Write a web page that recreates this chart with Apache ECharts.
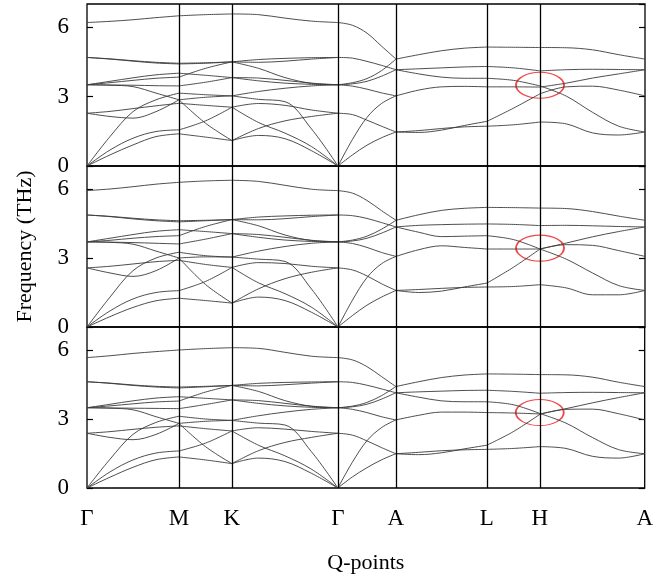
<!DOCTYPE html>
<html>
<head>
<meta charset="utf-8">
<script src="https://cdn.jsdelivr.net/npm/echarts@6/dist/echarts.min.js"></script>
<style>
  html, body { margin: 0; padding: 0; background: #fff; }
  #main { width: 656px; height: 583px; }
</style>
</head>
<body>
<div id="main"></div>
<script>
// high-symmetry path
const kLabels = ['Γ', 'M', 'K', 'Γ', 'A', 'L', 'H', 'A'];
const kPos = [0, 92, 145, 251, 309, 400, 453, 558];
const frac5 = [0, 0.25, 0.5, 0.75, 1];
const frac3 = [0, 0.5, 1];
const segFrac = [frac5, frac3, frac5, frac5, frac5, frac3, frac5];
// red ring at H, one per panel (THz)
const ringH = [3.49, 3.43, 3.28];

// ---- top panel ----
const top_GM = [
  [6.20, 6.25, 6.32, 6.41, 6.49],
  [4.69, 4.63, 4.55, 4.48, 4.44],
  [4.69, 4.62, 4.53, 4.45, 4.41],
  [3.51, 3.66, 3.81, 3.94, 4.01],
  [3.51, 3.60, 3.70, 3.79, 3.84],
  [3.51, 3.50, 3.49, 3.47, 3.46],
  [3.51, 3.49, 3.43, 3.15, 2.86],
  [2.28, 2.36, 2.48, 2.60, 2.71],
  [2.28, 2.14, 2.07, 2.35, 2.86],
  [0, 1.27, 2.35, 2.86, 3.15],
  [0, 0.69, 1.20, 1.49, 1.56],
  [0, 0.48, 0.91, 1.27, 1.39]
];
const top_MK = [
  [6.49, 6.54, 6.57],
  [4.44, 4.46, 4.50],
  [4.41, 4.44, 4.50],
  [4.01, 3.92, 3.82],
  [3.84, 4.22, 4.50],
  [3.46, 3.62, 3.82],
  [3.15, 3.08, 3.03],
  [2.86, 1.85, 1.10],
  [2.86, 2.97, 3.03],
  [2.71, 2.62, 2.54],
  [1.56, 1.95, 2.54],
  [1.39, 1.25, 1.10]
];
const top_KG = [
  [6.57, 6.54, 6.39, 6.26, 6.20],
  [4.50, 4.60, 4.65, 4.68, 4.69],
  [4.50, 4.48, 4.53, 4.62, 4.69],
  [4.50, 4.22, 3.82, 3.57, 3.51],
  [3.82, 3.80, 3.70, 3.58, 3.51],
  [3.82, 3.68, 3.58, 3.53, 3.51],
  [3.03, 3.22, 3.36, 3.46, 3.51],
  [3.03, 2.88, 2.78, 1.60, 0],
  [2.54, 2.70, 2.62, 2.42, 2.28],
  [2.54, 1.88, 1.42, 0.84, 0],
  [1.10, 1.62, 1.95, 2.14, 2.28],
  [1.10, 1.32, 1.18, 0.66, 0]
];
const top_GA = [
  [6.20, 6.08, 5.74, 5.18, 4.62],
  [4.69, 4.66, 4.52, 4.35, 4.16],
  [3.51, 3.60, 3.78, 4.12, 4.62],
  [3.51, 3.55, 3.66, 3.88, 4.16],
  [3.51, 3.45, 3.32, 3.16, 3.03],
  [2.28, 2.22, 1.98, 1.72, 1.47],
  [0, 1.15, 2.10, 2.70, 3.03],
  [0, 0.48, 0.90, 1.22, 1.47]
];
const top_AL = [
  [4.62, 4.81, 4.98, 5.09, 5.14],
  [4.16, 4.20, 4.24, 4.28, 4.30],
  [4.16, 3.98, 3.84, 3.79, 3.79],
  [3.03, 3.28, 3.42, 3.44, 3.42],
  [1.47, 1.45, 1.55, 1.75, 1.93],
  [1.47, 1.53, 1.62, 1.69, 1.72]
];
const top_LH = [
  [5.14, 5.13, 5.12],
  [4.30, 4.24, 4.11],
  [3.79, 3.70, 3.46],
  [3.42, 3.42, 3.41],
  [1.93, 2.50, 3.12],
  [1.72, 1.78, 1.90]
];
const top_HA = [
  [5.12, 5.11, 5.02, 4.81, 4.62],
  [4.11, 4.16, 4.18, 4.17, 4.16],
  [3.41, 3.58, 3.80, 3.98, 4.16],
  [3.46, 3.02, 2.32, 1.72, 1.47],
  [3.12, 3.42, 3.45, 3.28, 3.03],
  [1.90, 1.82, 1.43, 1.34, 1.47]
];

// ---- middle panel ----
const mid_GM = [
  [5.93, 6.00, 6.10, 6.21, 6.29],
  [4.87, 4.81, 4.73, 4.66, 4.62],
  [4.87, 4.80, 4.70, 4.62, 4.57],
  [3.70, 3.86, 4.02, 4.16, 4.23],
  [3.70, 3.77, 3.86, 3.93, 3.97],
  [3.70, 3.69, 3.67, 3.64, 3.61],
  [3.70, 3.68, 3.60, 3.30, 3.00],
  [2.57, 2.64, 2.74, 2.84, 2.90],
  [2.57, 2.35, 2.20, 2.45, 3.00],
  [0, 1.30, 2.45, 3.00, 3.25],
  [0, 0.70, 1.22, 1.50, 1.58],
  [0, 0.45, 0.85, 1.14, 1.25]
];
const mid_MK = [
  [6.29, 6.35, 6.38],
  [4.62, 4.64, 4.67],
  [4.57, 4.62, 4.67],
  [4.23, 4.15, 4.06],
  [3.97, 4.37, 4.67],
  [3.61, 3.82, 4.06],
  [3.25, 3.10, 3.04],
  [3.00, 1.85, 1.04],
  [3.00, 3.05, 3.04],
  [2.90, 2.72, 2.59],
  [1.58, 1.98, 2.59],
  [1.25, 1.15, 1.04]
];
const mid_KG = [
  [6.38, 6.33, 6.16, 5.99, 5.93],
  [4.67, 4.78, 4.83, 4.86, 4.87],
  [4.67, 4.66, 4.71, 4.80, 4.87],
  [4.67, 4.40, 4.00, 3.76, 3.70],
  [4.06, 4.02, 3.90, 3.77, 3.70],
  [4.06, 3.90, 3.78, 3.72, 3.70],
  [3.04, 3.30, 3.50, 3.64, 3.70],
  [3.04, 2.95, 2.85, 1.65, 0],
  [2.59, 2.80, 2.76, 2.64, 2.57],
  [2.59, 1.92, 1.45, 0.86, 0],
  [1.04, 1.66, 2.10, 2.38, 2.57],
  [1.04, 1.30, 1.15, 0.64, 0]
];
const mid_GA = [
  [5.93, 5.82, 5.50, 5.06, 4.64],
  [4.87, 4.84, 4.72, 4.54, 4.35],
  [3.70, 3.78, 3.95, 4.25, 4.64],
  [3.70, 3.74, 3.86, 4.08, 4.35],
  [3.70, 3.63, 3.46, 3.24, 3.07],
  [2.57, 2.48, 2.22, 1.88, 1.59],
  [0, 1.17, 2.15, 2.75, 3.07],
  [0, 0.50, 0.95, 1.30, 1.59]
];
const mid_AL = [
  [4.64, 4.88, 5.07, 5.16, 5.20],
  [4.35, 4.42, 4.45, 4.47, 4.48],
  [4.35, 4.12, 3.93, 3.95, 3.97],
  [3.07, 3.36, 3.53, 3.46, 3.39],
  [1.59, 1.50, 1.56, 1.74, 1.91],
  [1.59, 1.63, 1.68, 1.72, 1.74]
];
const mid_LH = [
  [5.20, 5.19, 5.17],
  [4.48, 4.46, 4.41],
  [3.97, 3.80, 3.39],
  [3.39, 3.39, 3.39],
  [1.91, 2.60, 3.39],
  [1.74, 1.76, 1.84]
];
const mid_HA = [
  [5.17, 5.15, 5.02, 4.82, 4.64],
  [4.41, 4.42, 4.40, 4.37, 4.35],
  [3.39, 3.65, 3.92, 4.15, 4.35],
  [3.39, 2.95, 2.35, 1.80, 1.59],
  [3.39, 3.58, 3.55, 3.32, 3.07],
  [1.84, 1.70, 1.40, 1.40, 1.59]
];

// ---- bottom panel ----
const bot_GM = [
  [5.67, 5.75, 5.85, 5.93, 6.00],
  [4.62, 4.56, 4.48, 4.42, 4.39],
  [4.62, 4.55, 4.46, 4.39, 4.35],
  [3.49, 3.64, 3.79, 3.91, 3.97],
  [3.49, 3.57, 3.66, 3.74, 3.78],
  [3.49, 3.48, 3.47, 3.46, 3.45],
  [3.49, 3.47, 3.40, 3.10, 2.81],
  [2.38, 2.45, 2.55, 2.64, 2.70],
  [2.38, 2.20, 2.10, 2.33, 2.81],
  [0, 1.25, 2.33, 2.85, 3.12],
  [0, 0.70, 1.22, 1.52, 1.61],
  [0, 0.47, 0.90, 1.23, 1.35]
];
const bot_MK = [
  [6.00, 6.06, 6.10],
  [4.39, 4.42, 4.46],
  [4.35, 4.40, 4.46],
  [3.97, 3.90, 3.83],
  [3.78, 4.17, 4.46],
  [3.45, 3.63, 3.83],
  [3.12, 3.00, 2.94],
  [2.81, 1.80, 1.06],
  [2.81, 2.90, 2.94],
  [2.70, 2.58, 2.48],
  [1.61, 1.95, 2.48],
  [1.35, 1.22, 1.06]
];
const bot_KG = [
  [6.10, 6.07, 5.90, 5.73, 5.67],
  [4.46, 4.55, 4.59, 4.61, 4.62],
  [4.46, 4.44, 4.49, 4.56, 4.62],
  [4.46, 4.20, 3.80, 3.55, 3.49],
  [3.83, 3.80, 3.68, 3.56, 3.49],
  [3.83, 3.68, 3.57, 3.51, 3.49],
  [2.94, 3.14, 3.30, 3.42, 3.49],
  [2.94, 2.82, 2.74, 1.58, 0],
  [2.48, 2.62, 2.56, 2.46, 2.38],
  [2.48, 1.86, 1.40, 0.82, 0],
  [1.06, 1.62, 1.98, 2.20, 2.38],
  [1.06, 1.30, 1.15, 0.64, 0]
];
const bot_GA = [
  [5.67, 5.57, 5.28, 4.85, 4.41],
  [4.62, 4.59, 4.47, 4.31, 4.14],
  [3.49, 3.56, 3.72, 4.01, 4.41],
  [3.49, 3.53, 3.64, 3.86, 4.14],
  [3.49, 3.42, 3.28, 3.10, 2.96],
  [2.38, 2.30, 2.05, 1.76, 1.49],
  [0, 1.12, 2.05, 2.62, 2.96],
  [0, 0.48, 0.88, 1.22, 1.49]
];
const bot_AL = [
  [4.41, 4.62, 4.80, 4.91, 4.96],
  [4.14, 4.18, 4.21, 4.24, 4.25],
  [4.14, 3.95, 3.79, 3.75, 3.75],
  [2.96, 3.16, 3.30, 3.30, 3.28],
  [1.49, 1.45, 1.53, 1.70, 1.86],
  [1.49, 1.55, 1.62, 1.66, 1.68]
];
const bot_LH = [
  [4.96, 4.95, 4.93],
  [4.25, 4.20, 4.12],
  [3.75, 3.62, 3.24],
  [3.28, 3.26, 3.22],
  [1.86, 2.45, 3.20],
  [1.68, 1.72, 1.80]
];
const bot_HA = [
  [4.93, 4.92, 4.82, 4.60, 4.41],
  [4.12, 4.15, 4.16, 4.15, 4.14],
  [3.22, 3.45, 3.70, 3.93, 4.14],
  [3.24, 2.82, 2.20, 1.67, 1.49],
  [3.20, 3.42, 3.43, 3.23, 2.96],
  [1.80, 1.72, 1.38, 1.30, 1.49]
];

const panels = [
  [top_GM, top_MK, top_KG, top_GA, top_AL, top_LH, top_HA],
  [mid_GM, mid_MK, mid_KG, mid_GA, mid_AL, mid_LH, mid_HA],
  [bot_GM, bot_MK, bot_KG, bot_GA, bot_AL, bot_LH, bot_HA]
];

const font = 'Liberation Serif, Times New Roman, serif';
const gridTops = [4, 166, 327];
const gridHeights = [162, 161, 161];

var chart = echarts.init(document.getElementById('main'), null, {renderer: 'canvas'});

var grids = [], xAxes = [], yAxes = [], series = [];

panels.forEach(function (segs, p) {
  grids.push({
    left: 87, width: 558, top: gridTops[p], height: gridHeights[p],
    show: true, borderColor: '#000', borderWidth: 1.3, backgroundColor: 'transparent'
  });
  var isBottom = p === 2;
  xAxes.push({
    gridIndex: p, type: 'value', min: 0, max: 558,
    axisLine: {show: false}, axisTick: {show: false}, splitLine: {show: false},
    axisLabel: {
      show: isBottom, customValues: kPos, showMinLabel: true, showMaxLabel: true,
      formatter: function (v) { return kLabels[kPos.indexOf(v)]; },
      fontFamily: font, fontSize: 23, color: '#000', margin: 19
    },
    name: isBottom ? 'Q-points' : '', nameLocation: 'middle', nameGap: 64,
    nameTextStyle: {fontFamily: font, fontSize: 22, color: '#000'}
  });
  var yBase = {
    gridIndex: p, type: 'value', min: 0, max: 7, interval: 3,
    axisLine: {show: false}, splitLine: {show: false},
    axisTick: {show: true, inside: true, length: 6, lineStyle: {color: '#000', width: 1.2}}
  };
  yAxes.push(Object.assign({}, yBase, {
    position: 'left',
    axisLabel: {showMaxLabel: false, fontFamily: font, fontSize: 23, color: '#000', margin: 18},
    name: p === 1 ? 'Frequency (THz)' : '', nameLocation: 'middle', nameGap: 51,
    nameTextStyle: {fontFamily: font, fontSize: 22, color: '#000'}
  }));
  yAxes.push(Object.assign({}, yBase, {position: 'right', axisLabel: {show: false}}));

  // vertical lines at the high-symmetry points
  series.push({
    type: 'line', xAxisIndex: p, yAxisIndex: p * 2, data: [], silent: true,
    markLine: {
      silent: true, symbol: ['none', 'none'], label: {show: false},
      lineStyle: {color: '#000', width: 1.3, type: 'solid'},
      data: kPos.slice(1, -1).map(function (x) { return {xAxis: x}; })
    }
  });

  segs.forEach(function (bands, s) {
    var x0 = kPos[s], x1 = kPos[s + 1], fr = segFrac[s];
    bands.forEach(function (b) {
      series.push({
        type: 'line', xAxisIndex: p, yAxisIndex: p * 2,
        data: b.map(function (v, k) { return [x0 + fr[k] * (x1 - x0), v]; }),
        smooth: 0.35, symbol: 'none', silent: true,
        lineStyle: {color: '#3a3a3a', width: 0.9}
      });
    });
  });

  // red ring at H
  series.push({
    type: 'scatter', xAxisIndex: p, yAxisIndex: p * 2,
    data: [[kPos[6], ringH[p]]], symbol: 'circle', symbolSize: [48, 26], silent: true,
    itemStyle: {color: 'rgba(0,0,0,0)', borderColor: '#ee1c1c', borderWidth: 1.4}
  });
});

chart.setOption({
  animation: false,
  backgroundColor: '#fff',
  grid: grids,
  xAxis: xAxes,
  yAxis: yAxes,
  series: series
});
</script>
</body>
</html>
